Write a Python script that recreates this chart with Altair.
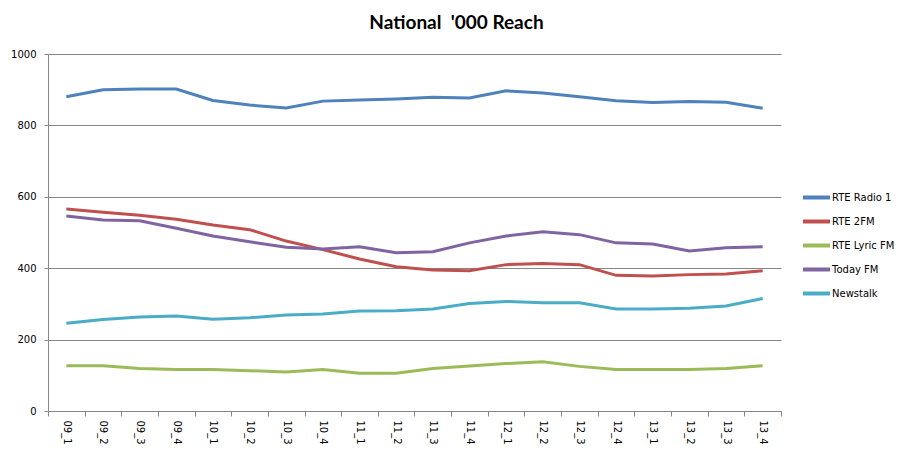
import altair as alt
import pandas as pd

quarters = ["09_1", "09_2", "09_3", "09_4", "10_1", "10_2", "10_3", "10_4",
            "11_1", "11_2", "11_3", "11_4", "12_1", "12_2", "12_3", "12_4",
            "13_1", "13_2", "13_3", "13_4"]

series_names = ["RTE Radio 1", "RTE 2FM", "RTE Lyric FM", "Today FM", "Newstalk"]
series_colors = ["#4F81BD", "#C0504D", "#9BBB59", "#8064A2", "#4BACC6"]

rte_radio1 = [880, 900, 902, 902, 870, 857, 849, 868, 871, 874,
              879, 877, 897, 891, 880, 869, 864, 867, 865, 848]
rte_2fm = [566, 557, 548, 537, 521, 508, 476, 452, 426, 404,
           395, 393, 410, 413, 410, 380, 378, 382, 384, 393]
rte_lyric = [127, 127, 119, 116, 116, 113, 109, 116, 106, 106,
             119, 126, 133, 138, 125, 116, 116, 116, 119, 127]
today_fm = [546, 535, 533, 512, 490, 474, 459, 454, 460, 443,
            446, 471, 490, 502, 494, 471, 468, 448, 457, 460]
newstalk = [246, 256, 263, 266, 257, 261, 269, 272, 280, 281,
            286, 301, 307, 303, 303, 286, 286, 288, 294, 315]

values = [rte_radio1, rte_2fm, rte_lyric, today_fm, newstalk]
rows = []
for name, vals in zip(series_names, values):
    for q, v in zip(quarters, vals):
        rows.append({"quarter": q, "series": name, "value": v})
df = pd.DataFrame(rows)

FONT = "DejaVu Sans"

chart = alt.Chart(df).mark_line(strokeWidth=3).encode(
    x=alt.X("quarter:O", sort=quarters, title=None,
            scale=alt.Scale(type="band", paddingInner=0, paddingOuter=0),
            axis=alt.Axis(labelAngle=90, labelFont=FONT, labelFontSize=10,
                          labelColor="#000000", tickBand="extent",
                          domainColor="#868686", tickColor="#868686",
                          tickSize=5, labelPadding=4, grid=False)),
    y=alt.Y("value:Q", title=None,
            scale=alt.Scale(domain=[0, 1000], nice=False),
            axis=alt.Axis(values=[0, 200, 400, 600, 800, 1000], format="d",
                          labelFont=FONT, labelFontSize=10, labelColor="#000000",
                          domainColor="#868686", tickColor="#868686",
                          gridColor="#868686", tickSize=4, labelPadding=8)),
    color=alt.Color("series:N", sort=series_names,
                    scale=alt.Scale(domain=series_names, range=series_colors),
                    legend=alt.Legend(title=None, orient="none",
                                      legendX=753, legendY=128,
                                      symbolType="stroke", symbolSize=729,
                                      symbolStrokeWidth=4, labelFont=FONT,
                                      labelFontSize=10, labelColor="#000000",
                                      rowPadding=0, labelOffset=0, padding=0)),
).properties(
    width=733, height=357,
    title=alt.TitleParams("National\u00a0 '000 Reach", font="Lato", fontSize=19,
                          fontWeight="bold", color="#000000", anchor="middle",
                          dx=42, offset=1, baseline="alphabetic"),
    autosize=alt.AutoSizeParams(type="none"),
    padding={"left": 48, "top": 54, "right": 133, "bottom": 42},
).configure(background="#ffffff").configure_view(stroke=None)

chart.save("out.html", embed_options={"renderer": "svg", "actions": False})
